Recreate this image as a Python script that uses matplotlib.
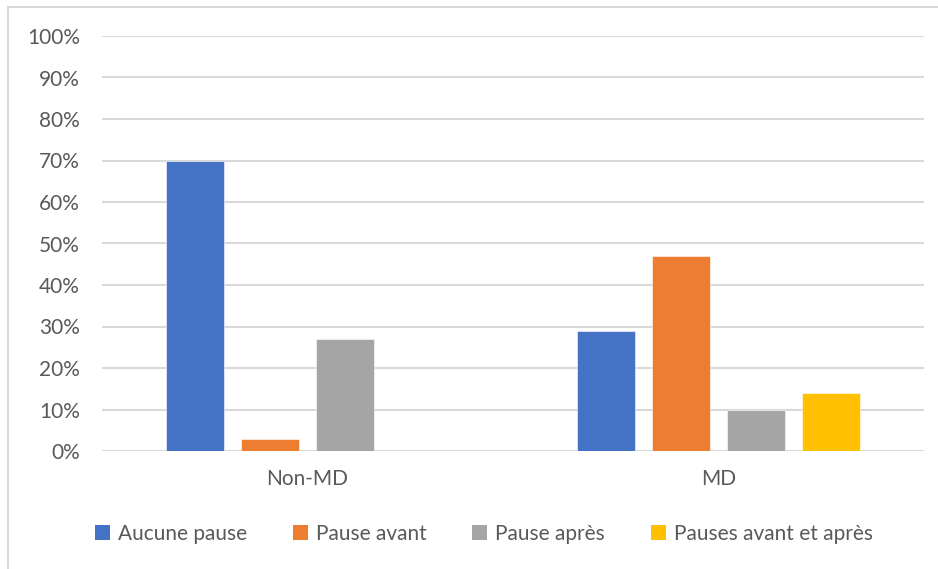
import matplotlib
matplotlib.use("Agg")
import matplotlib.pyplot as plt
from matplotlib.lines import Line2D
from matplotlib.patches import Patch
import numpy as np

categories = ["Non-MD", "MD"]
series_names = ["Aucune pause", "Pause avant", "Pause après", "Pauses avant et après"]
aucune_pause = [70, 29]
pause_avant = [3, 47]
pause_apres = [27, 10]
pauses_avant_apres = [0, 14]
yticks = [0, 10, 20, 30, 40, 50, 60, 70, 80, 90, 100]
ytick_labels = [f"{v}%" for v in yticks]

colors = ["#4472C4", "#ED7D31", "#A5A5A5", "#FFC000"]
text_color = "#595959"
grid_color = "#D9D9D9"

plt.rcParams['font.family'] = ['Lato', 'DejaVu Sans']

fig = plt.figure(figsize=(9.38, 5.69), dpi=100)
ax = fig.add_axes([102/938, 1-451/569, (924-102)/938, (451-36)/569])

series = [aucune_pause, pause_avant, pause_apres, pauses_avant_apres]
x = np.arange(len(categories))
step = 0.1825
width = 0.143
for i, (vals, c) in enumerate(zip(series, colors)):
    ax.bar(x + (i - 1.5) * step, vals, width=width, color=c, zorder=3,
           edgecolor="white", linewidth=0.4)

ax.set_xlim(-0.5, 1.5)
ax.set_ylim(0, 100)
ax.set_yticks(yticks)
ax.set_yticklabels(ytick_labels)
ax.set_xticks(x)
ax.set_xticklabels(categories)
ax.tick_params(axis='both', length=0, labelsize=15, colors=text_color)
ax.tick_params(axis='y', pad=16)
ax.tick_params(axis='x', pad=13)
ax.yaxis.grid(True, color=grid_color, linewidth=1.5, zorder=0)
ax.set_axisbelow(True)
for s in ax.spines.values():
    s.set_visible(False)

handles = [Patch(facecolor=c, edgecolor='none') for c in colors]
fig.legend(handles, series_names, loc='center', bbox_to_anchor=(0.516, 1-534/569),
           ncol=4, frameon=False, fontsize=15, labelcolor=text_color,
           handlelength=0.7, handleheight=0.7, handletextpad=0.4,
           columnspacing=2.2)

# chart border (top and left visible)
fig.add_artist(Line2D([8/938, 8/938], [0, 1-7/569], transform=fig.transFigure,
                      color="#D9D9D9", linewidth=1.5))
fig.add_artist(Line2D([8/938, 1], [1-7/569, 1-7/569], transform=fig.transFigure,
                      color="#D9D9D9", linewidth=1.5))

fig.savefig("out.png", dpi=100)
